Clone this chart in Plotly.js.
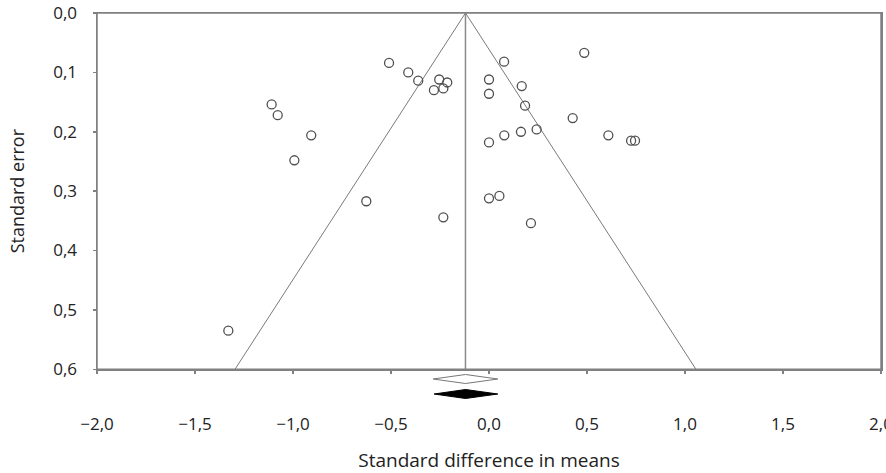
<!DOCTYPE html>
<html>
<head>
<meta charset="utf-8">
<script src="https://cdn.plot.ly/plotly-3.0.1.min.js"></script>
<style>html,body{margin:0;padding:0;background:#fff;}#chart{width:886px;height:473px;}</style>
</head>
<body>
<div id="chart"></div>
<script>
// Study effect sizes (standard difference in means) and their standard errors
var studyEffects = [-1.109, -1.078, -0.907, -0.993, -0.626, -0.233, -1.330,
  -0.510, -0.412, -0.361, -0.254, -0.213, -0.281, -0.233,
  0.486, 0.077, 0.000, 0.000, 0.167, 0.184, 0.243, 0.163, 0.078, 0.000,
  0.427, 0.609, 0.725, 0.745, 0.000, 0.053, 0.214];
var studySE = [0.154, 0.172, 0.206, 0.248, 0.317, 0.344, 0.535,
  0.084, 0.100, 0.114, 0.112, 0.117, 0.130, 0.127,
  0.067, 0.082, 0.112, 0.136, 0.123, 0.156, 0.196, 0.200, 0.206, 0.218,
  0.177, 0.206, 0.215, 0.215, 0.312, 0.308, 0.354];
// Summary effect [lower, point, upper]
var summaryObserved = [-0.285, -0.12, 0.045];
var summaryAdjusted = [-0.280, -0.12, 0.045];
var seMax = 0.6;
var xTickVals = [-2, -1.5, -1, -0.5, 0, 0.5, 1, 1.5, 2];
var yTickVals = [0, 0.1, 0.2, 0.3, 0.4, 0.5, 0.6];

var c = summaryObserved[1];
var funnelX = [c - 1.96 * seMax, c, c + 1.96 * seMax];
var funnelY = [seMax, 0, seMax];

function diamond(s, level, half) {
  return {x: [s[0], s[1], s[2], s[1], s[0]], y: [level, level + half, level, level - half, level]};
}
var dOpen = diamond(summaryObserved, 21, 4.5);
var dFill = diamond(summaryAdjusted, 6, 4.5);

var lineCol = '#808080';
var traces = [
  {x: funnelX, y: funnelY, xaxis: 'x', yaxis: 'y', mode: 'lines', line: {color: '#7a7a7a', width: 1}, hoverinfo: 'skip'},
  {x: [c, c], y: [0, seMax], xaxis: 'x', yaxis: 'y', mode: 'lines', line: {color: '#8a8a8a', width: 1.5}, hoverinfo: 'skip'},
  {x: studyEffects, y: studySE, xaxis: 'x', yaxis: 'y', mode: 'markers', type: 'scatter',
   marker: {symbol: 'circle-open', size: 9, color: '#505050', line: {width: 1.3, color: '#505050'}}},
  {x: dOpen.x, y: dOpen.y, xaxis: 'x2', yaxis: 'y2', mode: 'lines', fill: 'toself', fillcolor: '#ffffff', line: {color: '#777777', width: 1}},
  {x: dFill.x, y: dFill.y, xaxis: 'x2', yaxis: 'y2', mode: 'lines', fill: 'toself', fillcolor: '#000000', line: {color: '#000000', width: 1}}
];

var tickFont = {family: 'Open Sans, sans-serif', size: 17, color: '#222222'};
var layout = {
  width: 886, height: 473,
  margin: {l: 97, r: 5, t: 13, b: 60},
  paper_bgcolor: '#ffffff', plot_bgcolor: '#ffffff',
  showlegend: false,
  separators: ', ',
  shapes: [
    {type: 'rect', xref: 'x domain', yref: 'y domain', x0: 0, x1: 1, y0: 0, y1: 1,
     line: {color: lineCol, width: 1.5}, fillcolor: 'rgba(0,0,0,0)', layer: 'above'}
  ],
  xaxis: {
    range: [-2, 2], tickvals: xTickVals, tickformat: '.1f',
    showgrid: false, zeroline: false,
    showline: true, mirror: true, linecolor: lineCol, linewidth: 1.5,
    ticks: 'outside', ticklen: 3, tickcolor: lineCol, tickwidth: 1.5,
    tickfont: tickFont, ticklabelstandoff: 36, ticklabeloverflow: 'allow',
    anchor: 'y',
    title: {text: 'Standard difference in means', font: {family: 'Open Sans, sans-serif', size: 19, color: '#222222'}, standoff: 20}
  },
  yaxis: {
    range: [seMax, 0], tickvals: yTickVals, tickformat: '.1f',
    domain: [0.10925, 1],
    showgrid: false, zeroline: false,
    showline: true, mirror: true, linecolor: lineCol, linewidth: 1.5,
    ticks: 'outside', ticklen: 3, tickcolor: lineCol, tickwidth: 1.5,
    tickfont: tickFont, ticklabelstandoff: 12,
    anchor: 'x',
    title: {text: 'Standard error', font: {family: 'Open Sans, sans-serif', size: 18, color: '#222222'}, standoff: 24}
  },
  xaxis2: {matches: 'x', anchor: 'y2', visible: false, showgrid: false, zeroline: false},
  yaxis2: {domain: [0.0325, 0.1025], range: [0, 28], anchor: 'x2', visible: false, showgrid: false, zeroline: false}
};

Plotly.newPlot('chart', traces, layout, {displayModeBar: false, staticPlot: true});
</script>
</body>
</html>
